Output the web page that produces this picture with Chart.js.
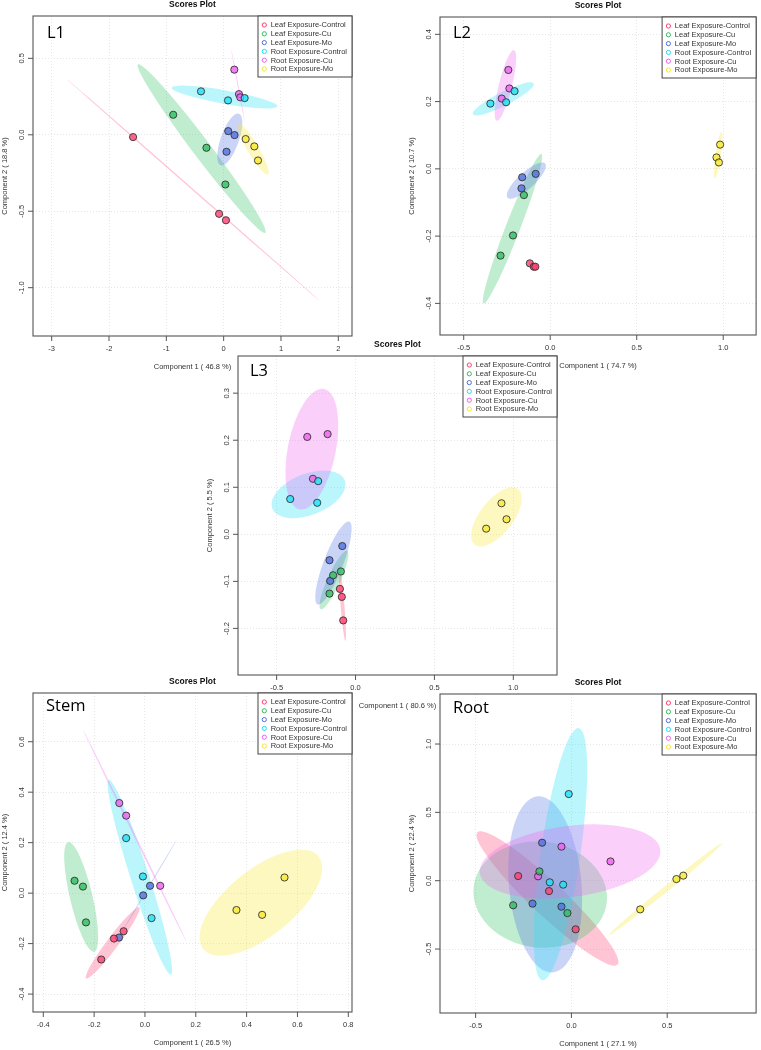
<!DOCTYPE html>
<html>
<head>
<meta charset="utf-8">
<script src="https://cdn.jsdelivr.net/npm/chart.js@4.4.1/dist/chart.umd.min.js"></script>
<style>
html, body { margin: 0; padding: 0; background: #fff; }
#page { position: relative; width: 761px; height: 1050px; overflow: hidden; }
.panel { position: absolute; left: 0; top: 0; width: 761px; height: 1050px; }
</style>
</head>
<body>
<div id="page"></div>
<script>
const groups = ['Leaf Exposure-Control', 'Leaf Exposure-Cu', 'Leaf Exposure-Mo',
                'Root Exposure-Control', 'Root Exposure-Cu', 'Root Exposure-Mo'];
const groupColors = ['255,64,112', '48,192,96', '80,112,224', '32,224,248', '240,96,240', '248,232,48'];

// L1 (x and y per group, 3 replicates each)
const l1X = [[-1.58, -0.08, 0.04], [-0.88, -0.30, 0.03], [0.08, 0.19, 0.05],
             [-0.395, 0.076, 0.366], [0.186, 0.267, 0.29], [0.384, 0.535, 0.599]];
const l1Y = [[-0.015, -0.517, -0.559], [0.131, -0.085, -0.325], [0.024, -0.002, -0.111],
             [0.284, 0.225, 0.240], [0.426, 0.266, 0.245], [-0.028, -0.076, -0.168]];
// ellipses: centre x, centre y, major tip x, major tip y, minor/major
const l1Ell = [[-0.535, -0.359, -2.744, 0.367, 0.004], [-0.384, -0.09, -1.494, 0.461, 0.085],
               [0.107, -0.031, 0.267, 0.138, 0.33], [0.015, 0.247, -0.907, 0.308, 0.125],
               [0.25, 0.323, 0.134, 0.552, 0.012], [0.512, -0.092, 0.25, 0.076, 0.19]];
const l1XTicks = [-3, -2, -1, 0, 1, 2];
const l1YTicks = [-1.0, -0.5, 0.0, 0.5];
const l1Var = [46.8, 18.8];

// L2
const l2X = [[-0.118, -0.095, -0.086], [-0.152, -0.215, -0.287], [-0.162, -0.084, -0.166],
             [-0.346, -0.255, -0.206], [-0.242, -0.236, -0.28], [0.982, 0.961, 0.975]];
const l2Y = [[-0.281, -0.291, -0.291], [-0.078, -0.198, -0.258], [-0.025, -0.015, -0.058],
             [0.194, 0.198, 0.231], [0.294, 0.239, 0.209], [0.072, 0.034, 0.019]];
const l2Ell = [[-0.1, -0.287, -0.126, -0.277, 0.35], [-0.218, -0.178, -0.051, 0.044, 0.09],
               [-0.138, -0.035, -0.029, 0.016, 0.32], [-0.271, 0.208, -0.095, 0.254, 0.2],
               [-0.259, 0.248, -0.209, 0.353, 0.18], [0.971, 0.041, 0.99, 0.11, 0.12]];
const l2XTicks = [-0.5, 0.0, 0.5, 1.0];
const l2YTicks = [-0.4, -0.2, 0.0, 0.2, 0.4];
const l2Var = [74.7, 10.7];

// L3
const l3X = [[-0.099, -0.087, -0.078], [-0.142, -0.093, -0.165], [-0.084, -0.165, -0.161],
             [-0.414, -0.237, -0.243], [-0.306, -0.177, -0.27], [0.828, 0.925, 0.957]];
const l3Y = [[-0.116, -0.133, -0.183], [-0.087, -0.079, -0.126], [-0.025, -0.055, -0.099],
             [0.075, 0.113, 0.067], [0.207, 0.213, 0.118], [0.012, 0.066, 0.032]];
const l3Ell = [[-0.084, -0.146, -0.104, -0.065, 0.05], [-0.137, -0.097, -0.053, -0.035, 0.2],
               [-0.14, -0.061, -0.04, 0.027, 0.22], [-0.298, 0.085, -0.528, 0.055, 0.53],
               [-0.277, 0.181, -0.2, 0.309, 0.39], [0.893, 0.037, 1.031, 0.096, 0.47]];
const l3XTicks = [-0.5, 0.0, 0.5, 1.0];
const l3YTicks = [-0.2, -0.1, 0.0, 0.1, 0.2, 0.3];
const l3Var = [80.6, 5.5];

// Stem
const stemX = [[-0.122, -0.084, -0.172], [-0.277, -0.244, -0.232], [0.020, -0.007, -0.102],
               [-0.074, -0.008, 0.026], [-0.101, -0.074, 0.060], [0.36, 0.461, 0.549]];
const stemY = [[-0.180, -0.151, -0.263], [0.049, 0.026, -0.116], [0.029, -0.009, -0.176],
               [0.218, 0.066, -0.099], [0.357, 0.307, 0.029], [-0.067, -0.086, 0.062]];
const stemEll = [[-0.127, -0.197, -0.022, -0.056, 0.13], [-0.251, -0.015, -0.302, 0.202, 0.2],
                 [0.008, 0.013, 0.125, 0.211, 0.008], [-0.02, 0.063, -0.142, 0.449, 0.09],
                 [-0.04, 0.227, -0.243, 0.646, 0.008], [0.456, -0.038, 0.683, 0.145, 0.45]];
const stemXTicks = [-0.4, -0.2, 0.0, 0.2, 0.4, 0.6, 0.8];
const stemYTicks = [-0.4, -0.2, 0.0, 0.2, 0.4, 0.6];
const stemVar = [26.5, 12.4];

// Root
const rootX = [[-0.278, -0.117, 0.022], [-0.167, -0.304, -0.021], [-0.153, -0.203, -0.052],
               [-0.014, -0.113, -0.043], [-0.052, 0.204, -0.174], [0.548, 0.584, 0.359]];
const rootY = [[0.034, -0.076, -0.356], [0.068, -0.18, -0.237], [0.278, -0.168, -0.19],
               [0.634, -0.012, -0.029], [0.249, 0.141, 0.032], [0.012, 0.037, -0.21]];
const rootEll = [[-0.125, -0.13, -0.491, 0.354, 0.17], [-0.163, -0.102, -0.51, -0.041, 0.79],
                 [-0.137, -0.027, -0.177, 0.617, 0.41], [-0.057, 0.194, 0.038, 1.117, 0.155],
                 [-0.007, 0.141, 0.464, 0.227, 0.39], [0.493, -0.06, 0.789, 0.276, 0.04]];
const rootXTicks = [-0.5, 0.0, 0.5];
const rootYTicks = [-0.5, 0.0, 0.5, 1.0];
const rootVar = [27.1, 22.4];

// layout of the five panels on the page: plot box l,t,r,b and axis ranges
const panels = [
  {label: 'L1', box: [33, 16, 352, 336], xr: [-3.326, 2.239], yr: [-1.316, 0.777], dx: 14, dy: 22,
   xs: l1X, ys: l1Y, ell: l1Ell, xt: l1XTicks, yt: l1YTicks, xd: 0, yd: 1, v: l1Var},
  {label: 'L2', box: [440, 17, 760, 335], xr: [-0.637, 1.19], yr: [-0.494, 0.4515], dx: 13, dy: 21,
   xs: l2X, ys: l2Y, ell: l2Ell, xt: l2XTicks, yt: l2YTicks, xd: 1, yd: 1, v: l2Var},
  {label: 'L3', box: [238, 356, 557, 675], xr: [-0.745, 1.277], yr: [-0.299, 0.379], dx: 12, dy: 19.5,
   xs: l3X, ys: l3Y, ell: l3Ell, xt: l3XTicks, yt: l3YTicks, xd: 1, yd: 1, v: l3Var},
  {label: 'Stem', box: [33, 693, 352, 1012], xr: [-0.4405, 0.8146], yr: [-0.471, 0.793], dx: 13, dy: 18,
   xs: stemX, ys: stemY, ell: stemEll, xt: stemXTicks, yt: stemYTicks, xd: 1, yd: 1, v: stemVar},
  {label: 'Root', box: [440, 694, 760, 1013], xr: [-0.686, 0.964], yr: [-0.968, 1.366], dx: 13, dy: 19,
   xs: rootX, ys: rootY, ell: rootEll, xt: rootXTicks, yt: rootYTicks, xd: 1, yd: 1, v: rootVar}
];

const smallFont = '7.5px "Liberation Sans", Arial, sans-serif';
const textColor = '#333';

function makePlugin(p) {
  return {
    id: 'scores' + p.label,
    beforeDatasetsDraw(chart) {
      const {ctx, chartArea: a, scales: {x, y}} = chart;
      ctx.save();
      ctx.beginPath();
      ctx.rect(a.left, a.top, a.width, a.height);
      ctx.clip();
      p.ell.forEach((e, i) => {
        const cx = x.getPixelForValue(e[0]), cy = y.getPixelForValue(e[1]);
        const dx = x.getPixelForValue(e[2]) - cx, dy = y.getPixelForValue(e[3]) - cy;
        const r = Math.hypot(dx, dy);
        ctx.beginPath();
        ctx.ellipse(cx, cy, r, Math.max(r * e[4], 0.5), Math.atan2(dy, dx), 0, Math.PI * 2);
        ctx.fillStyle = 'rgba(' + groupColors[i] + ',0.3)';
        ctx.fill();
      });
      ctx.restore();
    },
    afterDraw(chart) {
      const {ctx, chartArea: a, scales: {x, y}} = chart;
      ctx.save();
      // frame
      ctx.strokeStyle = '#555';
      ctx.lineWidth = 1.1;
      ctx.strokeRect(a.left, a.top, a.width, a.height);
      // ticks
      ctx.font = smallFont;
      ctx.fillStyle = textColor;
      ctx.textAlign = 'center';
      ctx.textBaseline = 'middle';
      ctx.lineWidth = 1;
      p.xt.forEach(v => {
        const px = x.getPixelForValue(v);
        ctx.beginPath(); ctx.moveTo(px, a.bottom); ctx.lineTo(px, a.bottom + 5); ctx.stroke();
        ctx.fillText(v.toFixed(p.xd), px, a.bottom + 13);
      });
      p.yt.forEach(v => {
        const py = y.getPixelForValue(v);
        ctx.beginPath(); ctx.moveTo(a.left - 5, py); ctx.lineTo(a.left, py); ctx.stroke();
        ctx.save();
        ctx.translate(a.left - 11, py);
        ctx.rotate(-Math.PI / 2);
        ctx.fillText(v.toFixed(p.yd), 0, 0);
        ctx.restore();
      });
      // axis titles
      ctx.fillText('Component 1 ( ' + p.v[0] + ' %)', (a.left + a.right) / 2, a.bottom + 31);
      ctx.save();
      ctx.translate(a.left - 28, (a.top + a.bottom) / 2);
      ctx.rotate(-Math.PI / 2);
      ctx.fillText('Component 2 ( ' + p.v[1] + ' %)', 0, 0);
      ctx.restore();
      // title
      ctx.fillStyle = '#111';
      ctx.font = 'bold 8.5px "Liberation Sans", Arial, sans-serif';
      ctx.fillText('Scores Plot', (a.left + a.right) / 2, a.top - 11.5);
      // legend
      const lw = 94, lh = 61, lx = a.right - lw, ly = a.top;
      ctx.fillStyle = '#fff';
      ctx.fillRect(lx, ly, lw, lh);
      ctx.strokeStyle = '#444';
      ctx.strokeRect(lx, ly, lw, lh);
      ctx.font = smallFont;
      ctx.textAlign = 'left';
      groups.forEach((g, i) => {
        const ry = ly + 9 + i * 8.8;
        ctx.beginPath();
        ctx.arc(lx + 6.3, ry, 2.1, 0, Math.PI * 2);
        ctx.strokeStyle = 'rgb(' + groupColors[i] + ')';
        ctx.stroke();
        ctx.fillStyle = textColor;
        ctx.fillText(g, lx + 12.7, ry + 0.3);
      });
      // panel label
      ctx.fillStyle = '#000';
      ctx.font = '16.5px "Open Sans", sans-serif';
      ctx.textBaseline = 'alphabetic';
      ctx.fillText(p.label, a.left + p.dx, a.top + p.dy);
      ctx.restore();
    }
  };
}

function axis(range, ticks, horizontal) {
  return {
    type: 'linear',
    min: range[0],
    max: range[1],
    afterFit(s) { if (horizontal) s.height = 0; else s.width = 0; },
    afterBuildTicks(s) { s.ticks = ticks.map(v => ({value: v})); },
    ticks: {display: false},
    grid: {color: '#e6e6e6', lineWidth: 1, drawTicks: false},
    border: {display: false, dash: [1, 2]}
  };
}

const page = document.getElementById('page');
panels.forEach(p => {
  const div = document.createElement('div');
  div.className = 'panel';
  const canvas = document.createElement('canvas');
  div.appendChild(canvas);
  page.appendChild(div);
  const [l, t, r, b] = p.box;
  new Chart(canvas, {
    type: 'scatter',
    data: {
      datasets: groups.map((g, i) => ({
        label: g,
        data: p.xs[i].map((xv, j) => ({x: xv, y: p.ys[i][j]})),
        backgroundColor: 'rgba(' + groupColors[i] + ',0.8)',
        borderColor: '#333',
        borderWidth: 0.9,
        pointRadius: 3.6
      }))
    },
    options: {
      responsive: true,
      maintainAspectRatio: false,
      animation: false,
      events: [],
      layout: {padding: {left: l, top: t, right: 761 - r, bottom: 1050 - b}},
      plugins: {legend: {display: false}, tooltip: {enabled: false}},
      scales: {x: axis(p.xr, p.xt, true), y: axis(p.yr, p.yt, false)}
    },
    plugins: [makePlugin(p)]
  });
});
</script>
</body>
</html>
